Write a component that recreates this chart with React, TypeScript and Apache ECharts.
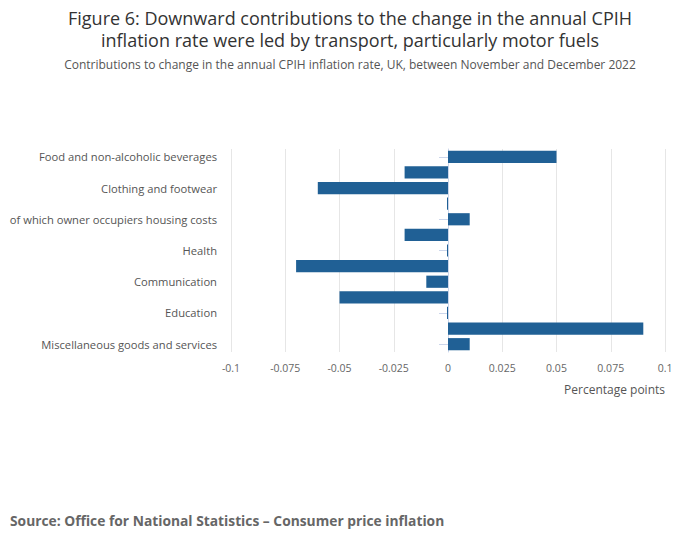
import React, { useEffect, useRef } from "react";
import * as echarts from "echarts";

const categories = [
  "Food and non-alcoholic beverages",
  "Alcohol and tobacco",
  "Clothing and footwear",
  "Housing and household services",
  "of which owner occupiers housing costs",
  "Furniture and household goods",
  "Health",
  "Transport",
  "Communication",
  "Recreation and culture",
  "Education",
  "Restaurants and hotels",
  "Miscellaneous goods and services",
];
const values = [0.05, -0.02, -0.06, -0.0003, 0.01, -0.02, -0.0003, -0.07, -0.01, -0.05, -0.0003, 0.09, 0.01];

const titleLines = [
  "Figure 6: Downward contributions to the change in the annual CPIH",
  "inflation rate were led by transport, particularly motor fuels",
];
const subtitleText =
  "Contributions to change in the annual CPIH inflation rate, UK, between November and December 2022";
const sourceText = "Source: Office for National Statistics – Consumer price inflation";
const axisTitle = "Percentage points";

const FONT = "'Open Sans', 'Noto Sans', sans-serif";

export default function App() {
  const ref = useRef<HTMLDivElement>(null);
  useEffect(() => {
    document.body.style.margin = "0";
    const chart = echarts.init(ref.current!, null, { renderer: "svg" });
    chart.setOption({
      animation: false,
      textStyle: { fontFamily: FONT },
      grid: { left: 231, right: 35, top: 149, bottom: 197, containLabel: false },
      xAxis: {
        type: "value",
        min: -0.1,
        max: 0.1,
        interval: 0.025,
        axisLine: { show: false },
        axisTick: { show: false },
        splitLine: { show: true, lineStyle: { color: "#e6e6e6", width: 1 } },
        axisLabel: {
          color: "#666",
          fontSize: 10.5,
          margin: 10,
          formatter: (v: number) => String(Number(v.toFixed(3))),
        },
      },
      yAxis: {
        type: "category",
        data: categories,
        inverse: true,
        axisLine: { show: true, lineStyle: { color: "#ccd6eb" } },
        axisTick: { show: true, interval: 1, alignWithLabel: true, length: 9, lineStyle: { color: "#ccd6eb" } },
        axisLabel: { interval: 1, color: "#555", fontSize: 11.2, margin: 14 },
        splitLine: { show: false },
      },
      series: [
        {
          type: "bar",
          data: values,
          barCategoryGap: "22%",
          barMinHeight: 1,
          itemStyle: { color: "#206095" },
        },
      ],
      graphic: [
        {
          type: "text",
          x: 350,
          y: 17.5,
          style: {
            text: titleLines[0], fill: "#333", fontSize: 18, fontFamily: FONT,
            textAlign: "center", textVerticalAlign: "middle",
          },
        },
        {
          type: "text",
          x: 350,
          y: 39.5,
          style: {
            text: titleLines[1], fill: "#333", fontSize: 18, fontFamily: FONT,
            textAlign: "center", textVerticalAlign: "middle",
          },
        },
        {
          type: "text",
          x: 350,
          y: 64,
          style: {
            text: subtitleText, fill: "#555", fontSize: 12, fontFamily: FONT,
            textAlign: "center", textVerticalAlign: "middle",
          },
        },
        {
          type: "text",
          right: 35,
          top: 383,
          style: { text: axisTitle, fill: "#555", fontSize: 12, fontFamily: FONT },
        },
        {
          type: "text",
          left: 10,
          top: 513,
          style: { text: sourceText, fill: "#666", fontSize: 13.8, fontWeight: "bold", fontFamily: FONT },
        },
      ],
    });
    return () => chart.dispose();
  }, []);
  return <div ref={ref} style={{ width: 700, height: 549 }} />;
}
